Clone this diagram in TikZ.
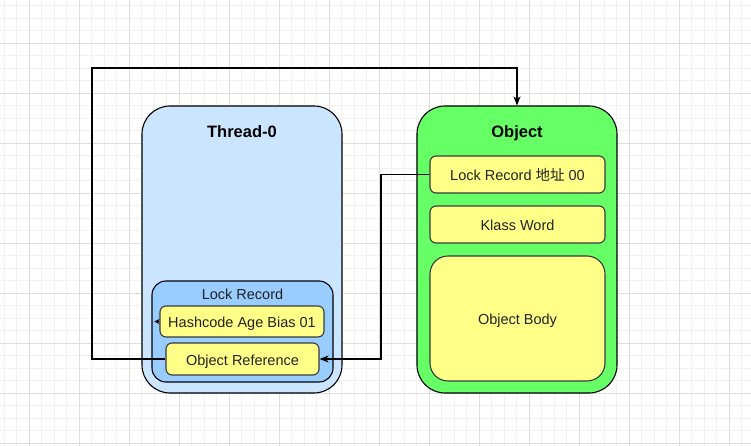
\documentclass[tikz,border=0pt]{standalone}
\usepackage{fontspec}
\setmainfont{Liberation Sans}
\newfontfamily\cjk{Noto Sans CJK SC}
\usetikzlibrary{arrows.meta}
\definecolor{gridminor}{HTML}{F1F1F1}
\definecolor{gridmajor}{HTML}{DEDEDE}
\definecolor{threadblue}{HTML}{CCE5FF}
\definecolor{lrblue}{HTML}{99CCFF}
\definecolor{objgreen}{HTML}{66FF66}
\definecolor{noteyellow}{HTML}{FFFF88}
\definecolor{notestroke}{HTML}{36393D}
\definecolor{txt}{HTML}{222222}
\tikzset{
  bigbox/.style={draw=black, line width=1.1pt, rounded corners=28pt, inner sep=0pt},
  midbox/.style={draw=black, line width=1.1pt, fill=lrblue, rounded corners=14pt, inner sep=0pt},
  fieldbox/.style={draw=notestroke, line width=1.1pt, fill=noteyellow, rounded corners=6pt, inner sep=0pt, text=txt, font=\fontsize{14.5}{17}\selectfont, text height=12.8pt, text depth=0pt},
  titletext/.style={font=\bfseries\fontsize{16.5}{19}\selectfont, text=black, inner sep=0pt, text height=14.6pt, text depth=0pt},
  plaintext/.style={font=\fontsize{14.5}{17}\selectfont, text=txt, inner sep=0pt, text height=12.8pt, text depth=0pt},
  conn/.style={draw=black, line width=1.1pt},
  tip/.style={-{Stealth[length=9pt,width=7pt,inset=2.5pt]}},
}
\begin{document}
\begin{tikzpicture}[x=1pt,y=-1pt]
\useasboundingbox (0,0) rectangle (751,446);
\fill[white] (0,0) rectangle (751,446);
% grid
\foreach \i in {0,...,60} {
  \draw[gridminor, line width=0.8pt] ({4+12.5*\i},0) -- ({4+12.5*\i},446);
}
\foreach \j in {0,...,36} {
  \draw[gridminor, line width=0.8pt] (0,{5.5+12.5*\j}) -- (751,{5.5+12.5*\j});
}
\foreach \i in {0,...,14} {
  \draw[gridmajor, line width=0.9pt] ({29+50*\i},0) -- ({29+50*\i},446);
}
\foreach \j in {0,...,8} {
  \draw[gridmajor, line width=0.9pt] (0,{43+50*\j}) -- (751,{43+50*\j});
}
% Thread-0
\node[bigbox, fill=threadblue, minimum width=200pt, minimum height=287pt] (thread) at (242,249.5) {};
\node[titletext] (threadtitle) at (242,130.7) {Thread-0};
\node[midbox, minimum width=181pt, minimum height=101pt] (lockrec) at (242.5,331.5) {};
\node[plaintext] (lockrectitle) at (242.5,293) {Lock Record};
\node[fieldbox, minimum width=164pt, minimum height=31pt] (hash) at (242,321.5) {Hashcode Age Bias 01};
\node[fieldbox, minimum width=153pt, minimum height=32pt] (objref) at (242.5,359) {Object Reference};
% Object
\node[bigbox, fill=objgreen, minimum width=200pt, minimum height=287pt] (object) at (517,249.5) {};
\node[titletext] (objecttitle) at (517,130.7) {Object};
\node[fieldbox, minimum width=175pt, minimum height=37pt] (lraddr) at (517.5,174.5) {Lock Record {\cjk 地址} 00};
\node[fieldbox, minimum width=175pt, minimum height=37pt] (klass) at (517.5,224.5) {Klass Word};
\node[fieldbox, rounded corners=18pt, minimum width=175pt, minimum height=125pt] (body) at (517.5,318.5) {Object Body};
% connectors
\coordinate (c1) at (92,68);
\coordinate (c2) at (381,359);
\draw[conn, tip] (objref.west) -| (c1) -| (object.north);
\draw[conn, tip] (lraddr.west) -| (c2) -- (objref.east);
\draw[conn, -{Stealth[length=5pt,width=5pt,inset=1.5pt]}] (hash.west) -- ++(-5,0);
\end{tikzpicture}
\end{document}
